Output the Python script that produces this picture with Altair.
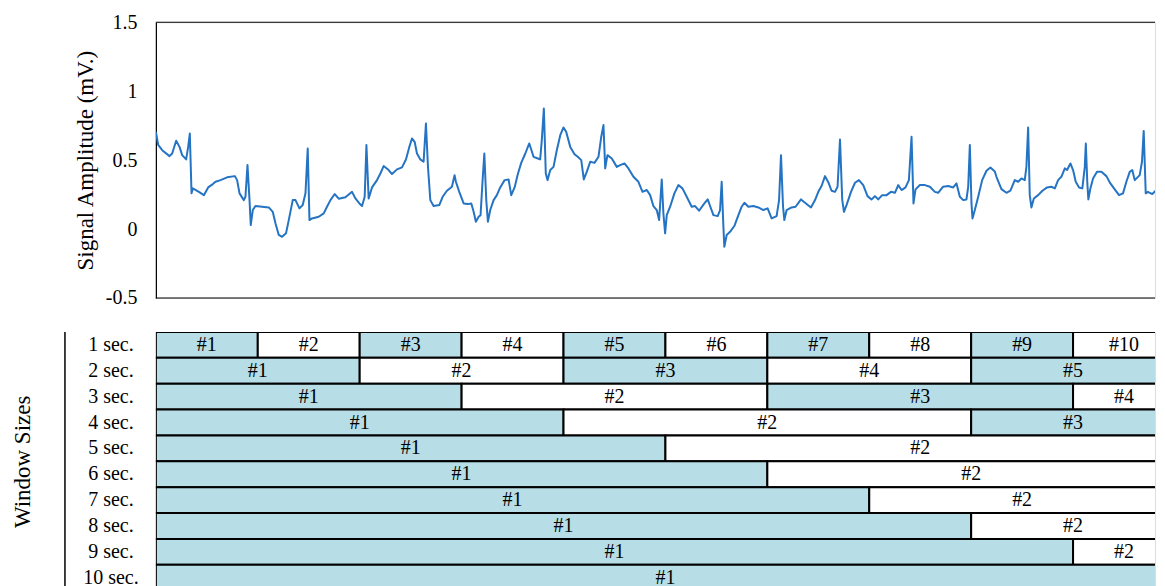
import math
import altair as alt
import pandas as pd

# ---- ECG trace (seconds, mV) ----
time_s = [
    0.000, 0.023, 0.062, 0.134, 0.160, 0.199, 0.232, 0.258, 0.297, 0.317,
    0.333, 0.350, 0.363, 0.422, 0.471, 0.513, 0.559, 0.585, 0.634, 0.699,
    0.775, 0.797, 0.821, 0.863, 0.879, 0.899, 0.919, 0.931, 0.951, 0.977,
    1.042, 1.108, 1.147, 1.174, 1.206, 1.238, 1.277, 1.304, 1.343, 1.370,
    1.409, 1.441, 1.468, 1.490, 1.507, 1.532, 1.598, 1.647, 1.679, 1.713,
    1.755, 1.794, 1.860, 1.925, 1.958, 1.997,
    2.023, 2.049, 2.066, 2.088, 2.121, 2.170, 2.203, 2.235, 2.284, 2.317,
    2.366, 2.415, 2.454, 2.487, 2.513, 2.539, 2.562, 2.595, 2.627, 2.650,
    2.670, 2.693, 2.725, 2.781, 2.814, 2.856, 2.905, 2.931, 2.944, 2.977,
    3.020, 3.062, 3.095, 3.118, 3.140, 3.167, 3.186, 3.206, 3.223, 3.242,
    3.258, 3.281, 3.314, 3.346, 3.379, 3.422, 3.461, 3.487, 3.520, 3.552,
    3.585, 3.625, 3.664, 3.706, 3.748, 3.771, 3.787, 3.807, 3.826, 3.843,
    3.870, 3.902, 3.934, 3.968,
    4.000, 4.026, 4.066, 4.108, 4.140, 4.174, 4.199, 4.228, 4.262, 4.304,
    4.343, 4.370, 4.392, 4.409, 4.431, 4.474, 4.523, 4.556, 4.598, 4.637,
    4.686, 4.735, 4.775, 4.817, 4.850, 4.882, 4.915, 4.938, 4.964, 4.980,
    4.997,
    5.013, 5.046, 5.088, 5.127, 5.167, 5.209, 5.258, 5.291, 5.330, 5.382,
    5.415, 5.438, 5.471, 5.513, 5.536, 5.552, 5.569, 5.578, 5.601, 5.634,
    5.676, 5.716, 5.748, 5.775, 5.814, 5.863, 5.912, 5.961,
    6.003, 6.042, 6.091, 6.115, 6.134, 6.154, 6.167, 6.189, 6.238, 6.277,
    6.330, 6.370, 6.428, 6.468, 6.500, 6.532, 6.566, 6.598, 6.630, 6.664,
    6.689, 6.713, 6.735, 6.752, 6.777, 6.821, 6.860, 6.899, 6.941, 6.983,
    7.022, 7.056, 7.088, 7.127, 7.170, 7.213, 7.252, 7.284, 7.317, 7.356,
    7.389, 7.415, 7.434, 7.454, 7.497, 7.546, 7.595, 7.644, 7.676, 7.725,
    7.775, 7.824, 7.856, 7.889, 7.922, 7.954, 7.971, 7.987,
    8.003, 8.013, 8.036, 8.069, 8.108, 8.150, 8.189, 8.232, 8.248, 8.297,
    8.346, 8.385, 8.428, 8.461, 8.493, 8.526, 8.542, 8.559, 8.575, 8.591,
    8.615, 8.657, 8.699, 8.745, 8.787, 8.821, 8.853, 8.885, 8.919, 8.941,
    8.974,
    9.000, 9.026, 9.059, 9.091, 9.115, 9.125, 9.140, 9.150, 9.170, 9.196,
    9.235, 9.278, 9.327, 9.366, 9.409, 9.451, 9.490, 9.523, 9.556, 9.581,
    9.605, 9.654, 9.676, 9.693, 9.713, 9.735, 9.777, 9.817, 9.850, 9.882,
]
amplitude_mv = [
    0.705, 0.61, 0.572, 0.529, 0.548, 0.64, 0.596, 0.536, 0.505, 0.596,
    0.693, 0.259, 0.295, 0.27, 0.246, 0.302, 0.326, 0.343, 0.355, 0.375,
    0.384, 0.355, 0.259, 0.21, 0.234, 0.464, 0.21, 0.029, 0.138, 0.167,
    0.162, 0.157, 0.125, 0.041, -0.043, -0.056, -0.031, 0.065, 0.21, 0.21,
    0.15, 0.174, 0.259, 0.585, 0.065, 0.077, 0.089, 0.114, 0.162, 0.21,
    0.254, 0.22, 0.23, 0.27, 0.222, 0.186,
    0.167, 0.234, 0.609, 0.222, 0.302, 0.355, 0.403, 0.457, 0.428, 0.399,
    0.433, 0.447, 0.505, 0.596, 0.657, 0.633, 0.548, 0.505, 0.488, 0.766,
    0.451, 0.21, 0.167, 0.174, 0.234, 0.278, 0.307, 0.391, 0.343, 0.27,
    0.186, 0.181, 0.186, 0.125, 0.053, 0.089, 0.101, 0.355, 0.548, 0.21,
    0.053, 0.138, 0.21, 0.246, 0.302, 0.355, 0.36, 0.246, 0.302, 0.399,
    0.48, 0.548, 0.621, 0.524, 0.512, 0.505, 0.645, 0.874, 0.403, 0.355,
    0.428, 0.451, 0.572, 0.681,
    0.737, 0.705, 0.596, 0.543, 0.524, 0.5, 0.36, 0.415, 0.488, 0.48,
    0.524, 0.669, 0.754, 0.44, 0.536, 0.512, 0.451, 0.464, 0.476, 0.44,
    0.379, 0.343, 0.27, 0.283, 0.246, 0.167, 0.138, 0.065, 0.36, 0.114,
    -0.031,
    0.101, 0.162, 0.259, 0.319, 0.295, 0.234, 0.162, 0.167, 0.133, 0.186,
    0.215, 0.167, 0.101, 0.094, 0.138, 0.343, 0.017, -0.128, -0.043, -0.02,
    0.022, 0.101, 0.162, 0.191, 0.162, 0.167, 0.157, 0.138,
    0.15, 0.077, 0.094, 0.21, 0.536, 0.162, 0.065, 0.138, 0.157, 0.162,
    0.215, 0.191, 0.157, 0.21, 0.27, 0.312, 0.384, 0.34, 0.278, 0.27,
    0.307, 0.65, 0.21, 0.125, 0.174, 0.27, 0.336, 0.355, 0.319, 0.239,
    0.215, 0.239, 0.215, 0.246, 0.246, 0.27, 0.263, 0.319, 0.283, 0.302,
    0.355, 0.669, 0.186, 0.288, 0.319, 0.319, 0.307, 0.27, 0.263, 0.307,
    0.312, 0.302, 0.331, 0.234, 0.21, 0.215, 0.307, 0.609,
    0.186, 0.077, 0.138, 0.234, 0.355, 0.423, 0.447, 0.418, 0.379, 0.29,
    0.263, 0.278, 0.355, 0.343, 0.367, 0.355, 0.451, 0.737, 0.246, 0.157,
    0.222, 0.246, 0.278, 0.302, 0.307, 0.295, 0.355, 0.379, 0.44, 0.428,
    0.476,
    0.428, 0.343, 0.302, 0.295, 0.451, 0.621, 0.331, 0.215, 0.295, 0.367,
    0.415, 0.415, 0.384, 0.331, 0.288, 0.246, 0.259, 0.343, 0.415, 0.428,
    0.355, 0.391, 0.488, 0.712, 0.259, 0.27, 0.254, 0.283, 0.302, 0.355,
]

# ---- window table ----
signal_duration_s = 10
window_sizes = [1, 2, 3, 4, 5, 6, 7, 8, 9, 10]
row_labels = [f"{w} sec." for w in window_sizes]
y_ticks = [-0.5, 0, 0.5, 1, 1.5]

FONT = "Liberation Serif"
LINE_COLOR = "#2574c4"
CELL_BLUE = "#b7dde6"

sig_df = pd.DataFrame({"t": time_s, "v": amplitude_mv})

cells = []
for w, lab in zip(window_sizes, row_labels):
    n = math.ceil(signal_duration_s / w)
    for k in range(1, n + 1):
        s = (k - 1) * w
        e = min(k * w, signal_duration_s)
        cells.append({"row": lab, "start": s, "end": e, "mid": (s + e) / 2,
                      "label": f"#{k}", "shade": "blue" if k % 2 == 1 else "white"})
cells_df = pd.DataFrame(cells)
rows_df = pd.DataFrame({"row": row_labels})
one_df = pd.DataFrame({"t": ["Window Sizes"]})

PX_PER_S = 102.0
W = 1000
H_TOP = 276
H_BOT = 259
x_scale = alt.Scale(domain=[0, W / PX_PER_S], nice=False, zero=False)

line = alt.Chart(sig_df).mark_line(color=LINE_COLOR, strokeWidth=2, clip=True,
                                   strokeJoin="round").encode(
    x=alt.X("t:Q", scale=x_scale, axis=None),
    y=alt.Y("v:Q", scale=alt.Scale(domain=[-0.5, 1.5], nice=False),
            axis=alt.Axis(values=y_ticks, title="Signal Amplitude (mV.)", grid=False,
                          ticks=False, domain=True, domainColor="black", domainWidth=1.2,
                          labelExpr="datum.value + ''",
                          labelFontSize=20, labelPadding=19, labelColor="black",
                          labelFont=FONT, titleFont=FONT, titleFontSize=23,
                          titleFontWeight="normal", titleColor="black", titlePadding=8)),
)
frame_top = alt.Chart(one_df).mark_rule(color="black", strokeWidth=1.2).encode(
    x=alt.value(0), x2=alt.value(W), y=alt.value(0))
frame_bot = alt.Chart(one_df).mark_rule(color="black", strokeWidth=1.2).encode(
    x=alt.value(0), x2=alt.value(W), y=alt.value(H_TOP))
top = alt.layer(line, frame_top, frame_bot).properties(width=W, height=H_TOP)

row_y = alt.Y("row:N", sort=row_labels,
              scale=alt.Scale(domain=row_labels, paddingInner=0, paddingOuter=0),
              axis=None)

rects = alt.Chart(cells_df).mark_rect(stroke="black", strokeWidth=2, clip=True).encode(
    x=alt.X("start:Q", scale=x_scale, axis=None),
    x2="end:Q",
    y=row_y,
    color=alt.Color("shade:N", scale=alt.Scale(domain=["blue", "white"],
                                               range=[CELL_BLUE, "white"]), legend=None),
)
cell_text = alt.Chart(cells_df).mark_text(fontSize=20, font=FONT, color="black").encode(
    x=alt.X("mid:Q", scale=x_scale, axis=None),
    y=row_y,
    text="label:N",
)
row_text = alt.Chart(rows_df).mark_text(fontSize=20, font=FONT, color="black",
                                        align="center").encode(
    x=alt.value(-45), y=row_y, text="row:N")
rule = alt.Chart(one_df).mark_rule(color="black", strokeWidth=1.5).encode(
    x=alt.value(-91), y=alt.value(0), y2=alt.value(H_BOT))
title_text = alt.Chart(one_df).mark_text(angle=270, fontSize=23, font=FONT,
                                         color="black").encode(
    x=alt.value(-133), y=alt.value(130), text="t:N")

bottom = alt.layer(rects, cell_text, row_text, rule, title_text).properties(
    width=W, height=H_BOT)

chart = alt.vconcat(top, bottom, spacing=21).properties(
    padding={"left": 3, "top": 3, "right": 0, "bottom": 0}
).configure_view(stroke="transparent").configure(font=FONT)

chart.save("out.html", embed_options={"renderer": "svg", "actions": False})
